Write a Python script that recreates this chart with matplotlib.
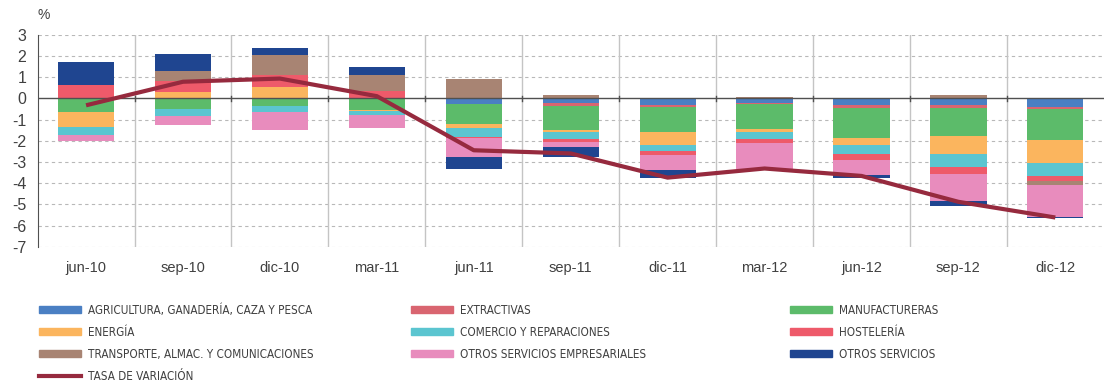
import matplotlib.pyplot as plt
from matplotlib.lines import Line2D
from matplotlib.patches import Patch
from matplotlib.font_manager import FontProperties
import numpy as np

periods = ['jun-10', 'sep-10', 'dic-10', 'mar-11', 'jun-11', 'sep-11',
           'dic-11', 'mar-12', 'jun-12', 'sep-12', 'dic-12']

agricultura = [0, 0, 0, 0, -0.27, -0.24, -0.33, -0.24, -0.33, -0.33, -0.39]
extractivas = [0, 0, 0, 0, 0, -0.12, -0.08, -0.05, -0.11, -0.11, -0.10]
manufactureras = [-0.64, -0.52, -0.36, -0.55, -0.92, -1.15, -1.18, -1.14, -1.41, -1.33, -1.49]
energia = [-0.71, 0.30, 0.55, -0.05, -0.22, -0.07, -0.61, -0.16, -0.36, -0.84, -1.05]
comercio = [-0.39, -0.31, -0.28, -0.20, -0.40, -0.32, -0.28, -0.34, -0.40, -0.62, -0.63]
hosteleria = [0.61, 0.52, 0.53, 0.33, -0.05, -0.14, -0.20, -0.16, -0.29, -0.32, -0.23]
transporte = [0, 0.47, 0.96, 0.75, 0.90, 0.15, 0, 0.08, 0, 0.17, -0.21]
otros_emp = [-0.26, -0.44, -0.85, -0.58, -0.92, -0.25, -0.71, -1.25, -0.71, -1.29, -1.49]
otros_serv = [1.09, 0.78, 0.35, 0.40, -0.56, -0.50, -0.39, 0, -0.17, -0.26, -0.05]
tasa = [-0.33, 0.78, 0.93, 0.10, -2.45, -2.60, -3.74, -3.31, -3.66, -4.88, -5.62]

series = [
    ('AGRICULTURA, GANADERÍA, CAZA Y PESCA', agricultura, '#4a7fc3'),
    ('EXTRACTIVAS', extractivas, '#d96570'),
    ('MANUFACTURERAS', manufactureras, '#5cbb6a'),
    ('ENERGÍA', energia, '#fbb55e'),
    ('COMERCIO Y REPARACIONES', comercio, '#5bc5d0'),
    ('HOSTELERÍA', hosteleria, '#ee5a6a'),
    ('TRANSPORTE, ALMAC. Y COMUNICACIONES', transporte, '#a88473'),
    ('OTROS SERVICIOS EMPRESARIALES', otros_emp, '#e88cbd'),
    ('OTROS SERVICIOS', otros_serv, '#1f4590'),
]
line_color = '#962a3e'
text_color = '#404040'

plt.rcParams['font.family'] = ['Liberation Sans', 'DejaVu Sans']
plt.rcParams['axes.unicode_minus'] = False

fig = plt.figure(figsize=(11.06, 3.85), dpi=100)
ax = fig.add_axes([0.034, 0.359, 0.964, 0.551])

x = np.arange(len(periods))
pos_base = np.zeros(len(periods))
neg_base = np.zeros(len(periods))
for name, vals, col in series:
    v = np.array(vals, dtype=float)
    pos = np.where(v > 0, v, 0)
    neg = np.where(v < 0, v, 0)
    ax.bar(x, pos, bottom=pos_base, width=0.58, color=col, zorder=3)
    ax.bar(x, neg, bottom=neg_base, width=0.58, color=col, zorder=3)
    pos_base += pos
    neg_base += neg

ax.plot(x, tasa, color=line_color, lw=3, zorder=5, solid_capstyle='butt')

ax.set_xlim(-0.5, len(periods) - 0.5)
ax.set_ylim(-7, 3)
ax.set_yticks(range(-7, 4))
for yv in range(-7, 4):
    if yv != 0:
        ax.axhline(yv, color='#b8b8b8', lw=0.8, ls=(0, (3, 3)), zorder=1)
ax.axhline(0, color='#505050', lw=1.0, zorder=4)
for sep in np.arange(0.5, len(periods) - 0.5, 1):
    ax.axvline(sep, color='#c4c4c4', lw=1.0, zorder=1)
    ax.plot([sep, sep], [-0.12, 0.12], color='#505050', lw=1.0, zorder=4)

ax.set_xticks(x)
ax.set_xticklabels(periods, fontsize=10.5, color=text_color)
ax.tick_params(axis='x', length=0, pad=10)
ax.tick_params(axis='y', length=0, labelsize=11.5, colors=text_color, pad=8)
for s in ['top', 'right', 'bottom']:
    ax.spines[s].set_visible(False)
ax.spines['left'].set_color('#505050')
ax.text(0.0, 1.06, '%', transform=ax.transAxes, fontsize=10,
        color=text_color, ha='left', va='bottom')

# legend in three fixed columns
handles = [Patch(color=c, label=n) for n, _, c in series]
handles.append(Line2D([], [], color=line_color, lw=3, label='TASA DE VARIACIÓN'))
cols = [[0, 3, 6, 9], [1, 4, 7], [2, 5, 8]]
col_x = [0.035, 0.372, 0.714]
leg_font = FontProperties(family='DejaVu Sans', stretch='condensed', size=8.4)
for xs, idx in zip(col_x, cols):
    fig.legend(handles=[handles[i] for i in idx], loc='upper left',
               bbox_to_anchor=(xs, 0.211), frameon=False, handlelength=3.6,
               handleheight=0.55, handletextpad=0.6, labelspacing=0.78,
               borderaxespad=0, borderpad=0, prop=leg_font,
               labelcolor=text_color)

fig.savefig('out.png', dpi=100)
